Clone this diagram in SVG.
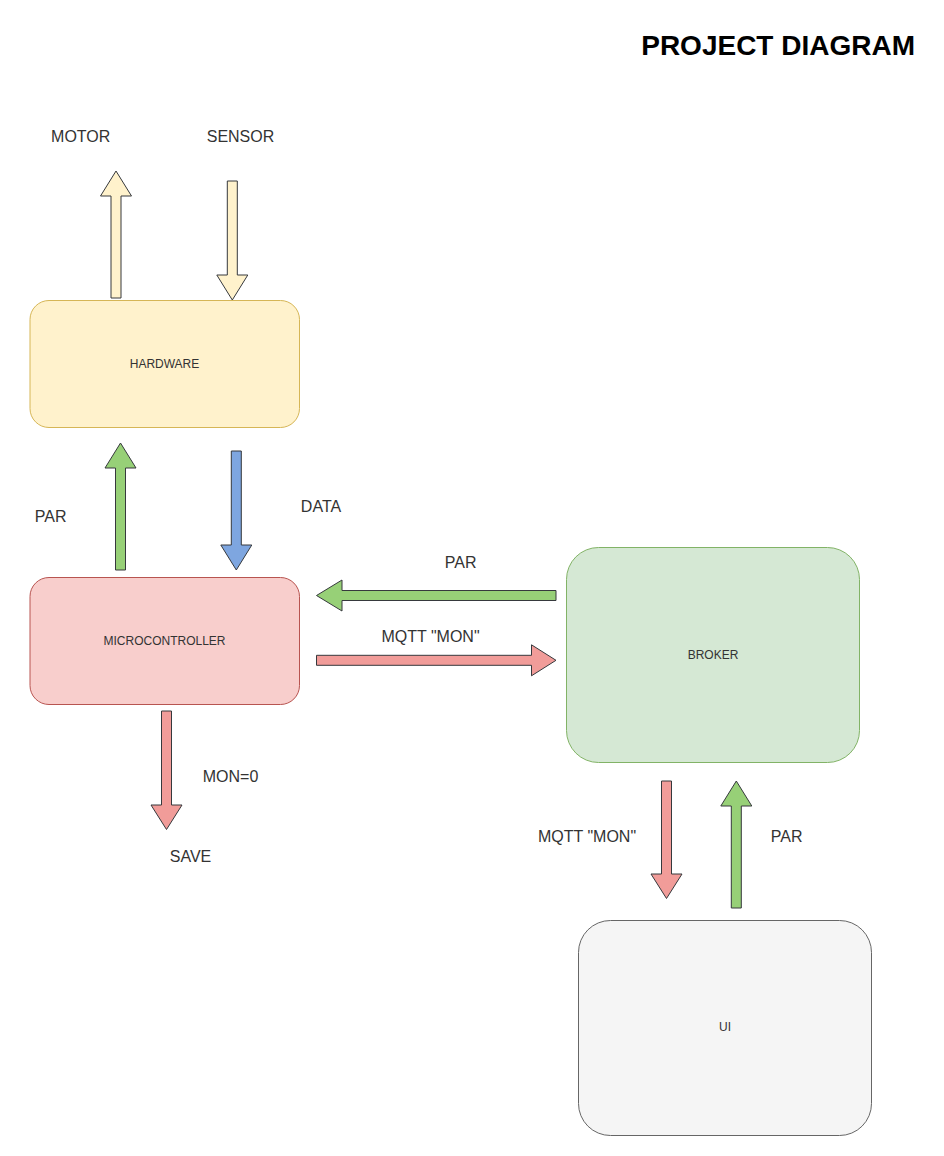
<svg xmlns="http://www.w3.org/2000/svg" width="944" height="1156" viewBox="0 0 944 1156">
<style>
.lbl{font-family:"Liberation Sans",Arial,sans-serif;font-size:16px;fill:#333333;text-anchor:middle}
.nt{font-family:"Liberation Sans",Arial,sans-serif;font-size:12px;fill:#333333;text-anchor:middle}
.title{font-family:"Liberation Sans",Arial,sans-serif;font-size:28px;font-weight:bold;fill:#000000;text-anchor:end}
.arr{stroke:#36393d;stroke-width:1;stroke-linejoin:miter}
.y{fill:#fff2cc}.g{fill:#97d077}.r{fill:#f19c99}.b{fill:#7ea6e0}
</style>
<rect width="944" height="1156" fill="#ffffff"/>
<text class="title" x="915" y="55">PROJECT DIAGRAM</text>

<g id="hardware">
<rect x="30" y="300.5" width="269.5" height="127" rx="19" ry="19" fill="#fff2cc" stroke="#d6b656"/>
<text class="nt" x="164.5" y="368.3">HARDWARE</text>
</g>
<g id="microcontroller">
<rect x="30" y="577.5" width="269.5" height="127" rx="19" ry="19" fill="#f8cecc" stroke="#b85450"/>
<text class="nt" x="164.5" y="645">MICROCONTROLLER</text>
</g>
<g id="broker">
<rect x="566.5" y="547.5" width="293" height="215" rx="32" ry="32" fill="#d5e8d4" stroke="#82b366"/>
<text class="nt" x="713" y="659.3">BROKER</text>
</g>
<g id="ui">
<rect x="578.5" y="920.5" width="293" height="215" rx="32" ry="32" fill="#f5f5f5" stroke="#666666"/>
<text class="nt" x="725" y="1031.3">UI</text>
</g>

<g id="connectors">
<!-- MOTOR up -->
<polygon class="arr y" points="111,298 111,196 100.5,196 116,171 131.5,196 121,196 121,298"/>
<!-- SENSOR down -->
<polygon class="arr y" points="227.3,181 237.3,181 237.3,275 247.8,275 232.3,300 216.8,275 227.3,275"/>
<!-- PAR up (micro -> hardware) -->
<polygon class="arr g" points="115.5,570 115.5,468 105,468 120.5,443 136,468 125.5,468 125.5,570"/>
<!-- DATA down -->
<polygon class="arr b" points="231.3,451 241.3,451 241.3,545 251.8,545 236.3,570 220.8,545 231.3,545"/>
<!-- PAR left (broker -> micro) -->
<polygon class="arr g" points="556,590.5 342,590.5 342,580 316.5,595.5 342,611 342,600.5 556,600.5"/>
<!-- MQTT right (micro -> broker) -->
<polygon class="arr r" points="316.5,655.3 531.5,655.3 531.5,644.8 556,660.3 531.5,675.8 531.5,665.3 316.5,665.3"/>
<!-- MON=0 down -->
<polygon class="arr r" points="161.5,711 171.5,711 171.5,805 182,805 166.5,829.5 151,805 161.5,805"/>
<!-- MQTT down (broker -> UI) -->
<polygon class="arr r" points="661.5,781 671.5,781 671.5,874 682,874 666.5,898.5 651,874 661.5,874"/>
<!-- PAR up (UI -> broker) -->
<polygon class="arr g" points="731.3,908 731.3,806 720.8,806 736.3,781 751.8,806 741.3,806 741.3,908"/>
</g>

<g id="labels">
<text class="lbl" x="80.7" y="141.7">MOTOR</text>
<text class="lbl" x="240.5" y="141.7">SENSOR</text>
<text class="lbl" x="50.7" y="522.4">PAR</text>
<text class="lbl" x="321" y="511.7">DATA</text>
<text class="lbl" x="460.7" y="568.4">PAR</text>
<text class="lbl" x="430.5" y="642.4">MQTT "MON"</text>
<text class="lbl" x="230.5" y="782.4">MON=0</text>
<text class="lbl" x="190.5" y="861.7">SAVE</text>
<text class="lbl" x="587" y="841.7">MQTT "MON"</text>
<text class="lbl" x="786.7" y="841.7">PAR</text>
</g>
</svg>
